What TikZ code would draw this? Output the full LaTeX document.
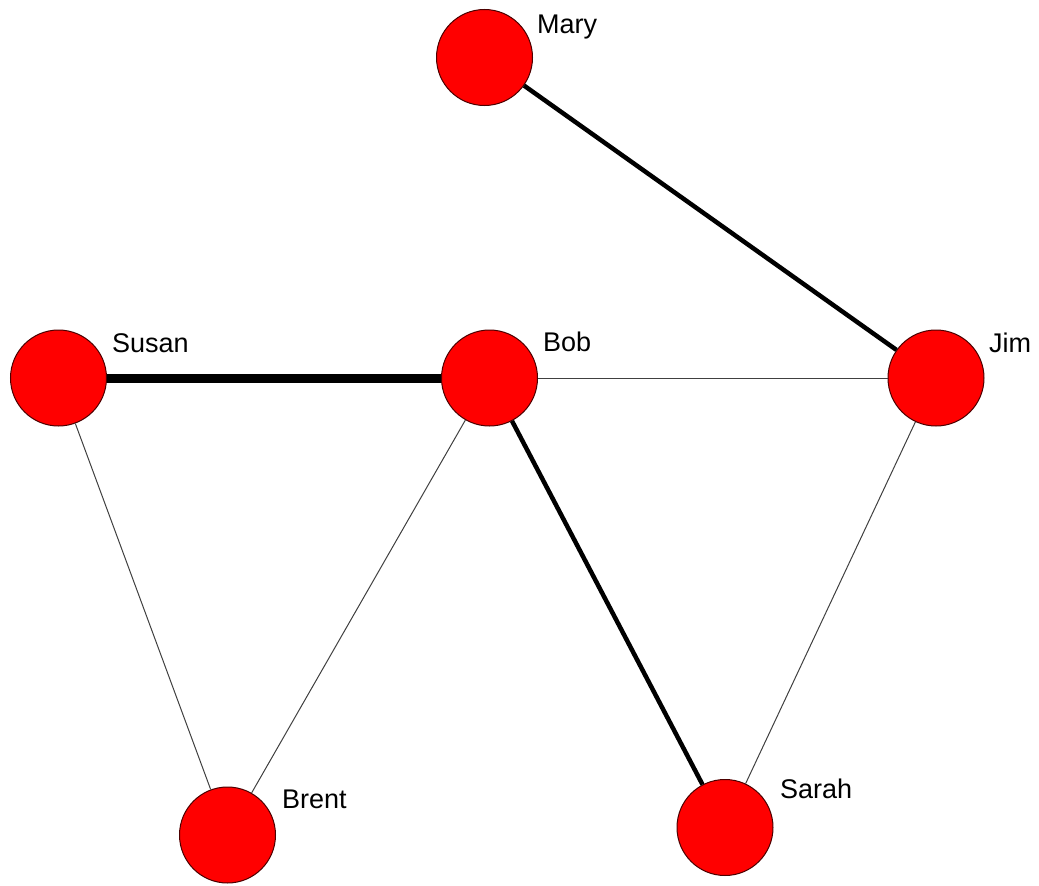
\documentclass[tikz,border=0pt]{standalone}
\usepackage{fontspec}
\setmainfont{Liberation Sans}
\begin{document}
\begin{tikzpicture}[x=1pt,y=-1pt,
  person/.style={circle,fill=red,draw=black!70!red,line width=1pt,minimum size=96pt,inner sep=0pt},
  lbl/.style={anchor=base west,inner sep=0pt,font=\fontsize{27}{32}\selectfont},
  weak/.style={line width=1pt,draw=black!75},
  mid/.style={line width=4.5pt,draw=black},
  strong/.style={line width=9pt,draw=black}]
\useasboundingbox (0,0) rectangle (1039,886);
\node[person] (mary) at (484.5,57.5) {};
\node[person] (susan) at (58.5,378) {};
\node[person] (bob) at (489.5,378) {};
\node[person] (jim) at (936,378) {};
\node[person] (brent) at (227.5,835) {};
\node[person] (sarah) at (725,827.5) {};
\node[lbl] (lmary) at (537,34) {Mary};
\node[lbl] (lsusan) at (112,352) {Susan};
\node[lbl] (lbob) at (543,351) {Bob};
\node[lbl] (ljim) at (989,352) {Jim};
\node[lbl] (lbrent) at (282,808) {Brent};
\node[lbl] (lsarah) at (780,798) {Sarah};
\draw[mid] (mary) -- (jim);
\draw[strong] (susan) -- (bob);
\draw[weak] (bob) -- (jim);
\draw[mid] (bob) -- (sarah);
\draw[weak] (susan) -- (brent);
\draw[weak] (bob) -- (brent);
\draw[weak] (jim) -- (sarah);
\end{tikzpicture}
\end{document}
